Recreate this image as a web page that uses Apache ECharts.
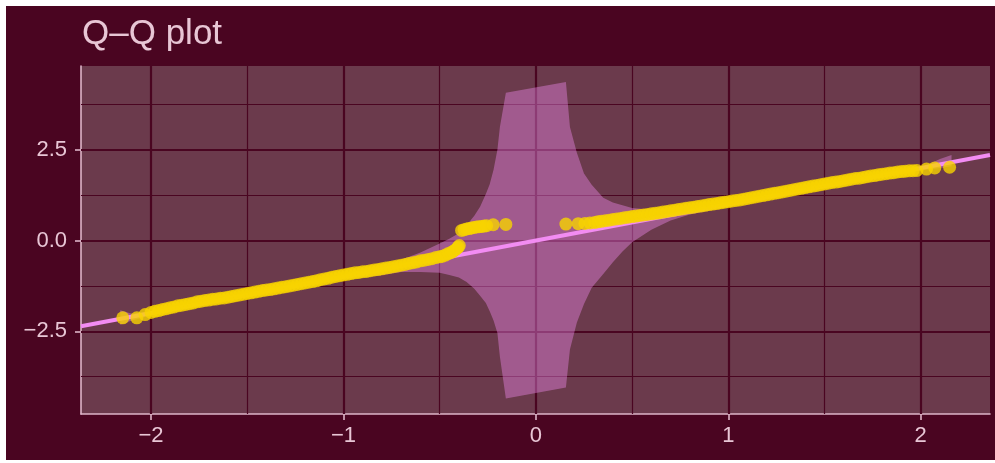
<!DOCTYPE html>
<html><head><meta charset="utf-8">
<script src="https://cdn.jsdelivr.net/npm/echarts@6/dist/echarts.min.js"></script>
<style>
html,body{margin:0;padding:0;background:#ffffff;width:995px;height:463px;overflow:hidden}
#c{position:absolute;left:6px;top:6px;width:989px;height:454px}
</style></head><body><div id="c"></div>
<script>
const titleText = 'Q\u2013Q plot';
const xRange = [-2.364, 2.36];
const yRange = [-4.78, 4.81];
const xTicks = [-2, -1, 0, 1, 2];
const yTicks = [-2.5, 0, 2.5];
const xMinor = [-1.5, -0.5, 0.5, 1.5];
const yMinor = [-3.75, -1.25, 1.25, 3.75];

// theoretical quantiles (x) and sample quantiles (y)
const sampleX = [
-2.147,-2.074,-2.031,
-2.00,-1.98,-1.96,-1.94,-1.92,-1.90,-1.88,-1.86,-1.84,-1.82,
-1.80,-1.78,-1.76,-1.74,-1.72,-1.70,-1.68,-1.66,-1.64,-1.62,
-1.60,-1.58,-1.56,-1.54,-1.52,-1.50,-1.48,-1.46,-1.44,-1.42,
-1.40,-1.38,-1.36,-1.34,-1.32,-1.30,-1.28,-1.26,-1.24,-1.22,
-1.20,-1.18,-1.16,-1.14,-1.12,-1.10,-1.08,-1.06,-1.04,-1.02,
-1.00,-0.98,-0.96,-0.94,-0.92,-0.90,-0.88,-0.86,-0.84,-0.82,
-0.80,-0.78,-0.76,-0.74,-0.72,-0.70,-0.68,-0.66,-0.64,-0.62,
-0.60,-0.58,-0.56,-0.54,-0.52,-0.50,
-0.485,-0.47,-0.455,-0.44,-0.43,-0.42,-0.41,-0.404,-0.398,
-0.386,-0.373,-0.36,-0.347,-0.334,-0.321,-0.308,-0.295,-0.282,-0.269,-0.256,-0.222,-0.156,
0.156,0.22,0.255,0.281,0.306,0.322,
0.34,0.36,0.38,0.40,0.42,0.44,0.46,0.48,0.50,0.52,
0.54,0.56,0.58,0.60,0.62,0.64,0.66,0.68,0.70,0.72,
0.74,0.76,0.78,0.80,0.82,0.84,0.86,0.88,0.90,0.92,
0.94,0.96,0.98,1.00,1.02,1.04,1.06,1.08,1.10,1.12,
1.14,1.16,1.18,1.20,1.22,1.24,1.26,1.28,1.30,1.32,
1.34,1.36,1.38,1.40,1.42,1.44,1.46,1.48,1.50,1.52,
1.54,1.56,1.58,1.60,1.62,1.64,1.66,1.68,1.70,1.72,
1.74,1.76,1.78,1.80,1.82,1.84,1.86,1.88,1.90,1.92,
1.94,1.96,1.98,
2.03,2.073,2.15];
const sampleY = [
-2.13,-2.13,-2.04,
-1.98,-1.95,-1.93,-1.90,-1.88,-1.85,-1.83,-1.80,-1.78,-1.76,
-1.74,-1.72,-1.69,-1.67,-1.65,-1.64,-1.62,-1.61,-1.59,-1.58,
-1.56,-1.54,-1.52,-1.50,-1.48,-1.46,-1.44,-1.42,-1.40,-1.38,
-1.36,-1.35,-1.33,-1.31,-1.29,-1.27,-1.25,-1.23,-1.21,-1.19,
-1.17,-1.15,-1.13,-1.11,-1.08,-1.06,-1.04,-1.01,-0.99,-0.97,
-0.95,-0.93,-0.91,-0.89,-0.88,-0.86,-0.85,-0.83,-0.81,-0.80,
-0.78,-0.76,-0.74,-0.72,-0.70,-0.68,-0.66,-0.63,-0.61,-0.59,
-0.56,-0.54,-0.52,-0.50,-0.47,-0.45,
-0.43,-0.40,-0.36,-0.33,-0.30,-0.26,-0.22,-0.18,-0.14,
0.28,0.30,0.318,0.33,0.345,0.36,0.373,0.38,0.389,0.40,0.409,0.436,0.444,
0.455,0.464,0.47,0.483,0.50,0.515,
0.53,0.545,0.56,0.58,0.595,0.61,0.63,0.645,0.66,0.675,
0.69,0.705,0.72,0.735,0.75,0.765,0.785,0.80,0.82,0.835,
0.855,0.87,0.89,0.905,0.92,0.94,0.955,0.97,0.99,1.005,
1.02,1.04,1.055,1.07,1.09,1.105,1.12,1.14,1.16,1.18,
1.20,1.22,1.24,1.26,1.28,1.30,1.32,1.34,1.36,1.38,
1.40,1.42,1.44,1.46,1.48,1.50,1.52,1.54,1.56,1.58,
1.60,1.61,1.63,1.65,1.67,1.69,1.71,1.72,1.74,1.76,
1.78,1.79,1.81,1.83,1.84,1.86,1.87,1.89,1.90,1.91,
1.92,1.925,1.93,
1.97,2.0,2.02];

// fitted reference line end points
const lineX = [-2.364, 2.36];
const lineY = [-2.362, 2.358];

// confidence band
const bandX  = [-2.16,-2.1,-2.0,-1.5,-1.0,-0.8,-0.7,-0.6,-0.5,-0.45,-0.4,-0.36,-0.32,-0.29,-0.26,-0.24,-0.22,-0.2,-0.187,-0.156,
                0.156,0.177,0.213,0.25,0.29,0.35,0.4,0.45,0.5,0.6,0.7,0.8,1.0,1.5,2.0,2.1,2.16];
const bandHi = [-1.92,-2.02,-1.95,-1.45,-0.93,-0.68,-0.53,-0.33,-0.08,0.05,0.2,0.42,0.68,0.93,1.28,1.55,1.95,2.5,3.13,4.07,
                4.37,3.13,2.42,1.85,1.54,1.18,1.05,0.97,0.9,0.85,0.88,0.93,1.08,1.53,2.0,2.25,2.36];
const bandLo = [-2.32,-2.2,-2.06,-1.56,-1.08,-0.95,-0.87,-0.87,-0.89,-0.95,-1.02,-1.14,-1.33,-1.52,-1.72,-1.95,-2.2,-2.55,-3.2,-4.35,
                -4.05,-3.0,-2.26,-1.75,-1.3,-0.92,-0.6,-0.3,-0.05,0.3,0.55,0.72,0.93,1.44,1.93,2.0,2.05];

const BG = '#4A0521', PANEL = '#6B3A4C', GRIDC = '#4A0521', AXISC = '#DDB5C8', TEXTC = '#E8C6D5';
const PINK = '#F28CF2', GOLD = '#F7D300';
const FONT = '"Liberation Sans", Arial, Helvetica, sans-serif';
const minus = s => s.replace('-', '\u2212');

const chart = echarts.init(document.getElementById('c'), null, {renderer: 'canvas'});
const gridLines = [].concat(
  xMinor.map(v => ({xAxis: v, lineStyle: {color: GRIDC, width: 1.2, type: 'solid'}})),
  yMinor.map(v => ({yAxis: v, lineStyle: {color: GRIDC, width: 1.2, type: 'solid'}})),
  xTicks.map(v => ({xAxis: v, lineStyle: {color: GRIDC, width: 2.2, type: 'solid'}})),
  yTicks.map(v => ({yAxis: v, lineStyle: {color: GRIDC, width: 2.2, type: 'solid'}}))
);

chart.setOption({
  backgroundColor: BG,
  animation: false,
  title: {
    text: titleText, left: 76, top: 11, padding: 0,
    textStyle: {color: TEXTC, fontSize: 35, fontWeight: 'normal', fontFamily: FONT}
  },
  grid: {left: 75, right: 5, top: 60, bottom: 46, show: true, backgroundColor: PANEL, borderWidth: 0},
  xAxis: {
    type: 'value', min: xRange[0], max: xRange[1],
    axisLine: {show: true, onZero: false, lineStyle: {color: AXISC, width: 1.6}},
    axisTick: {show: true, length: 6, customValues: xTicks, lineStyle: {color: AXISC, width: 1.6}},
    axisLabel: {customValues: xTicks, color: TEXTC, fontSize: 22, fontFamily: FONT, margin: 11,
      formatter: v => minus(String(v))},
    splitLine: {show: false}
  },
  yAxis: {
    type: 'value', min: yRange[0], max: yRange[1],
    axisLine: {show: true, onZero: false, lineStyle: {color: AXISC, width: 1.6}},
    axisTick: {show: true, length: 6, customValues: yTicks, lineStyle: {color: AXISC, width: 1.6}},
    axisLabel: {customValues: yTicks, color: TEXTC, fontSize: 22, fontFamily: FONT, margin: 14,
      formatter: v => minus(Number(v).toFixed(1))},
    splitLine: {show: false}
  },
  series: [
    {
      type: 'line', data: [], silent: true, z: 1,
      markLine: {silent: true, z: 1, animation: false, symbol: ['none', 'none'], label: {show: false},
        emphasis: {disabled: true}, data: gridLines}
    },
    {
      type: 'custom', z: 2, silent: true, data: [[0, 0]],
      renderItem: (params, api) => {
        const pts = [];
        for (let i = 0; i < bandX.length; i++) pts.push(api.coord([bandX[i], bandHi[i]]));
        for (let i = bandX.length - 1; i >= 0; i--) pts.push(api.coord([bandX[i], bandLo[i]]));
        return {type: 'polygon', shape: {points: pts}, style: {fill: 'rgba(242,140,242,0.4)'}};
      }
    },
    {
      type: 'line', z: 3, silent: true, symbol: 'none',
      data: lineX.map((x, i) => [x, lineY[i]]),
      lineStyle: {color: PINK, width: 4}
    },
    {
      type: 'scatter', z: 4, silent: true, symbolSize: 13, large: false,
      data: sampleX.map((x, i) => [x, sampleY[i]]),
      itemStyle: {color: GOLD, opacity: 0.8}
    }
  ]
});
</script></body></html>
